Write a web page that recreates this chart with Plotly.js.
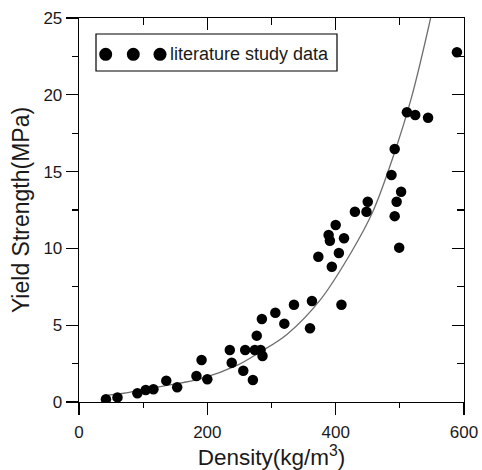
<!DOCTYPE html>
<html>
<head>
<meta charset="utf-8">
<script src="https://cdn.plot.ly/plotly-3.0.1.min.js"></script>
<style>html,body{margin:0;padding:0;background:#fff;}#chart{width:482px;height:470px;}</style>
</head>
<body>
<div id="chart"></div>
<script>
// Literature study data (density kg/m3, yield strength MPa)
var density = [42, 60, 91, 104, 116, 136, 153, 183, 191, 200, 235, 238, 256, 259, 271, 274, 277, 283, 286, 285,
  306, 320, 335, 360, 363, 373, 389, 391, 394, 400, 405, 409, 413, 430, 448, 450, 487, 492, 495, 499, 502, 492,
  511, 524, 544, 589];
var strength = [0.18, 0.30, 0.57, 0.78, 0.83, 1.39, 0.96, 1.69, 2.73, 1.48, 3.39, 2.56, 2.03, 3.39, 1.43, 3.39, 4.32, 3.39, 3.0, 5.4,
  5.81, 5.1, 6.33, 4.8, 6.58, 9.46, 10.87, 10.5, 8.81, 11.52, 9.7, 6.33, 10.66, 12.39, 12.39, 13.04, 14.78, 12.1, 13.04, 10.05, 13.69, 16.47,
  18.86, 18.68, 18.51, 22.77];
// Fitted curve
var fitDensity = [45, 70, 137, 189, 246, 282, 324, 376, 425, 458, 489, 518, 548];
var fitStrength = [0.45, 0.57, 1.08, 1.5, 2.38, 3.25, 4.4, 6.65, 9.8, 12.4, 15.9, 19.8, 25];
var legendLabel = 'literature study data';
var xTitle = 'Density(kg/m<sup>3</sup>)';
var yTitle = 'Yield Strength(MPa)';

var FONT = 'Liberation Sans, Arial, sans-serif';
var TXT = '#1a1a1a';

var traces = [
  {x: fitDensity, y: fitStrength, mode: 'lines', line: {shape: 'spline', color: '#6e6e6e', width: 1.3},
   showlegend: false, hoverinfo: 'skip'},
  {x: density, y: strength, mode: 'markers', name: legendLabel,
   marker: {symbol: 'circle', size: 10.5, color: '#000'}, showlegend: false},
  {x: density, y: strength, mode: 'none', xaxis: 'x2', yaxis: 'y2', showlegend: false, hoverinfo: 'skip'}
];

var L = 79, T = 18, W = 385, H = 384;
function px(p){ return (p - L) / W; }
function py(p){ return (T + H - p) / H; }
var dotR = 6.5, dotY = 54.3;
var dotXs = [105.7, 133.3, 160];
var shapes = [
  {type: 'rect', xref: 'paper', yref: 'paper', x0: px(96), x1: px(337), y0: py(71), y1: py(34),
   line: {color: '#000', width: 1.2}, fillcolor: 'rgba(0,0,0,0)'}
];
dotXs.forEach(function(cx){
  shapes.push({type: 'circle', xref: 'paper', yref: 'paper', x0: px(cx - dotR), x1: px(cx + dotR),
    y0: py(dotY + dotR), y1: py(dotY - dotR), fillcolor: '#000', line: {color: '#000', width: 0}});
});

var axBase = {showgrid: false, zeroline: false, showline: true, linecolor: '#000', linewidth: 1.3,
  tickcolor: '#000', tickwidth: 1.2, tickfont: {family: FONT, size: 17, color: TXT}};

var layout = {
  width: 482, height: 470,
  margin: {l: L, r: 482 - L - W, t: T, b: 470 - T - H, pad: 0},
  paper_bgcolor: '#fff', plot_bgcolor: '#fff',
  showlegend: false,
  xaxis: Object.assign({}, axBase, {range: [0, 600], tickvals: [0, 200, 400, 600], ticks: 'outside', ticklen: 12,
    ticklabelstandoff: 2,
    minor: {tickvals: [100, 300, 500], ticks: 'outside', ticklen: 5, tickcolor: '#000', tickwidth: 1.2, showgrid: false},
    title: {text: xTitle, font: {family: FONT, size: 22.5, color: TXT}, standoff: 7}}),
  yaxis: Object.assign({}, axBase, {range: [0, 25], tickvals: [0, 5, 10, 15, 20, 25], ticks: 'outside', ticklen: 12,
    minor: {tickvals: [2.5, 7.5, 12.5, 17.5, 22.5], ticks: 'outside', ticklen: 6, tickcolor: '#000', tickwidth: 1.2, showgrid: false},
    title: {text: yTitle, font: {family: FONT, size: 23, color: TXT}, standoff: 7}}),
  xaxis2: Object.assign({}, axBase, {overlaying: 'x', side: 'top', anchor: 'y2', range: [0, 600], tickvals: [0, 200, 400, 600],
    ticks: 'inside', ticklen: 12, showticklabels: false,
    minor: {tickvals: [100, 300, 500], ticks: 'inside', ticklen: 7, tickcolor: '#000', tickwidth: 1.2, showgrid: false}}),
  yaxis2: Object.assign({}, axBase, {overlaying: 'y', side: 'right', anchor: 'x2', range: [0, 25], tickvals: [0, 5, 10, 15, 20, 25],
    ticks: 'inside', ticklen: 12, showticklabels: false,
    minor: {tickvals: [2.5, 7.5, 12.5, 17.5, 22.5], ticks: 'inside', ticklen: 7, tickcolor: '#000', tickwidth: 1.2, showgrid: false}}),
  shapes: shapes,
  annotations: [
    {xref: 'paper', yref: 'paper', x: px(168), y: py(dotY), xanchor: 'left', yanchor: 'middle',
     text: legendLabel, showarrow: false, font: {family: FONT, size: 18, color: TXT}}
  ]
};

Plotly.newPlot('chart', traces, layout, {staticPlot: true, displayModeBar: false});
</script>
</body>
</html>
